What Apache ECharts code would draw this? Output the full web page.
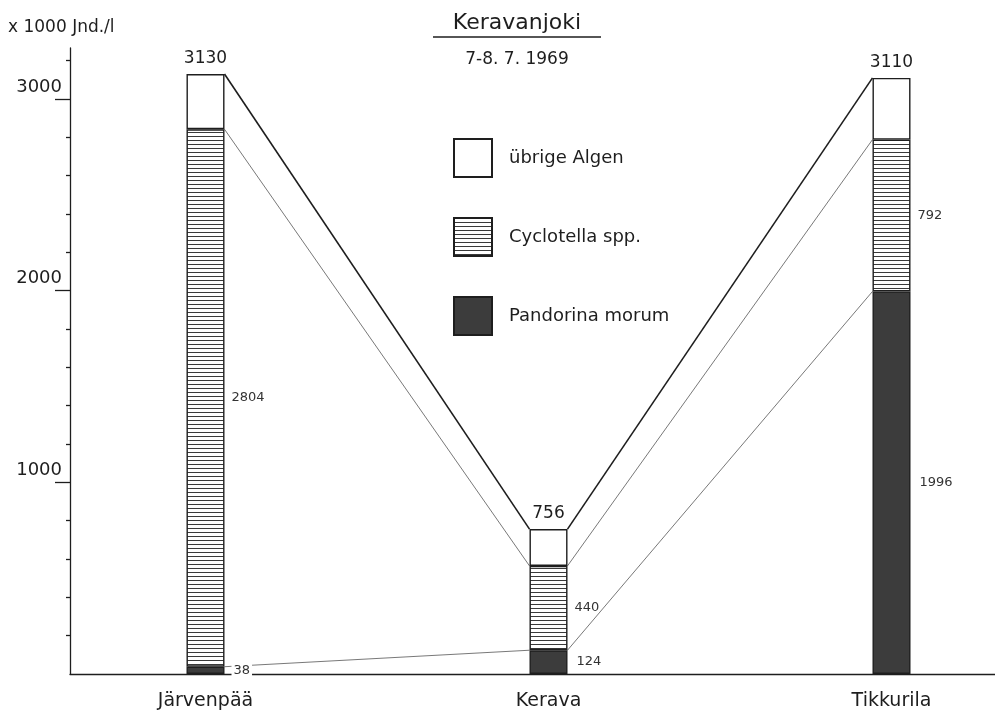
<!DOCTYPE html>
<html>
<head>
<meta charset="utf-8">
<script src="https://cdn.jsdelivr.net/npm/echarts@6/dist/echarts.min.js"></script>
<style>html,body{margin:0;padding:0;background:#fff;}#chart{width:995px;height:717px;}</style>
</head>
<body>
<div id="chart"></div>
<script>
// ---- data ----
const categories = ['Järvenpää', 'Kerava', 'Tikkurila'];
const pandorina = [38, 124, 1996];      // Pandorina morum
const cyclotella = [2804, 440, 792];    // Cyclotella spp.
const uebrige = [288, 192, 322];        // übrige Algen
const totals = [3130, 756, 3110];
const yMajorTicks = [1000, 2000, 3000];
const yMinorTicks = [200, 400, 600, 800, 1200, 1400, 1600, 1800, 2200, 2400, 2600, 2800, 3200];
const seriesNames = ['übrige Algen', 'Cyclotella spp.', 'Pandorina morum'];

// ---- styling ----
const FONT = '"DejaVu Sans", sans-serif';
const INK = '#1e1e1e';
const BAR_W = 38;
const Y_MAX = 3266;

function hatch() {
  const c = document.createElement('canvas');
  c.width = 4; c.height = 4;
  const g = c.getContext('2d');
  g.fillStyle = '#ffffff'; g.fillRect(0, 0, 4, 4);
  g.fillStyle = '#3a3a3a'; g.fillRect(0, 0, 4, 1);
  return c;
}

// connector segments between neighbouring bars at each stack boundary
const levels = categories.map((_, i) => [pandorina[i], pandorina[i] + cyclotella[i], totals[i]]);
const connectors = [];
for (let i = 0; i < categories.length - 1; i++) {
  for (let k = 0; k < 3; k++) {
    connectors.push([i, levels[i][k], i + 1, levels[i + 1][k], k === 2 ? 1 : 0]);
  }
}

const chart = echarts.init(document.getElementById('chart'), null, {renderer: 'canvas'});
const border = {borderColor: INK, borderWidth: 1.4};
const segLabel = {
  show: true, position: 'right', distance: 7,
  fontFamily: FONT, fontSize: 13, color: '#333'
};

chart.setOption({
  animation: false,
  backgroundColor: '#fff',
  grid: [
    {left: 205.5, right: 103.5, top: 48, bottom: 43, containLabel: false},   // bars
    {left: 70, right: 0, top: 48, bottom: 43, containLabel: false}           // axis frame
  ],
  xAxis: [{
    type: 'category', gridIndex: 0, data: categories, boundaryGap: false,
    axisLine: {show: false}, axisTick: {show: false}, splitLine: {show: false},
    axisLabel: {fontFamily: FONT, fontSize: 19, color: INK, margin: 18}
  }, {
    type: 'value', gridIndex: 1, min: 0, max: 1,
    axisLine: {show: true, onZero: false, lineStyle: {color: INK, width: 1.3}},
    axisTick: {show: false}, axisLabel: {show: false}, splitLine: {show: false}
  }],
  yAxis: [{
    type: 'value', gridIndex: 0, min: 0, max: Y_MAX, show: false
  }, {
    type: 'value', gridIndex: 1, min: 0, max: Y_MAX,
    axisLine: {show: true, onZero: false, lineStyle: {color: INK, width: 1.3}},
    axisTick: {show: true, customValues: yMajorTicks, length: 15, lineStyle: {color: INK, width: 1.3}},
    axisLabel: {
      customValues: yMajorTicks, formatter: v => String(v),
      fontFamily: FONT, fontSize: 18, color: INK,
      margin: 8, verticalAlign: 'bottom', lineHeight: 18, padding: [0, 0, 3, 0]
    },
    splitLine: {show: false}
  }, {
    type: 'value', gridIndex: 1, min: 0, max: Y_MAX, position: 'left',
    axisLine: {show: false, onZero: false},
    axisTick: {show: true, customValues: yMinorTicks, length: 4, lineStyle: {color: INK, width: 1.3}},
    axisLabel: {show: false},
    splitLine: {show: false}
  }],
  legend: {
    data: seriesNames,
    orient: 'vertical', left: 453, top: 138, padding: 0,
    itemWidth: 38, itemHeight: 38, itemGap: 39,
    icon: 'rect',
    textStyle: {fontFamily: FONT, fontSize: 18, color: INK, padding: [0, 0, 0, 12]},
    selectedMode: false
  },
  graphic: [
    {type: 'text', x: 517, y: 12, style: {text: 'Keravanjoki', font: '22px ' + FONT, fill: INK, align: 'center', verticalAlign: 'top'}},
    {type: 'line', shape: {x1: 433, y1: 37, x2: 601, y2: 37}, style: {stroke: INK, lineWidth: 1.3}},
    {type: 'text', x: 517, y: 51, style: {text: '7-8. 7. 1969', font: '17px ' + FONT, fill: INK, align: 'center', verticalAlign: 'top'}},
    {type: 'text', x: 8, y: 19, style: {text: 'x 1000 Jnd./l', font: '17px ' + FONT, fill: INK, align: 'left', verticalAlign: 'top'}}
  ],
  series: [
    {
      type: 'custom', name: 'connectors', z: 1, silent: true, clip: false,
      xAxisIndex: 0, yAxisIndex: 0,
      dimensions: ['x1', 'y1', 'x2', 'y2', 'thick'],
      encode: {x: [0, 2], y: [1, 3]},
      data: connectors,
      renderItem: function (params, api) {
        const p1 = api.coord([api.value(0), api.value(1)]);
        const p2 = api.coord([api.value(2), api.value(3)]);
        const thick = api.value(4) === 1;
        return {
          type: 'line',
          shape: {x1: p1[0] + BAR_W / 2, y1: p1[1], x2: p2[0] - BAR_W / 2, y2: p2[1]},
          style: {stroke: thick ? INK : '#555', lineWidth: thick ? 1.6 : 0.8}
        };
      }
    },
    {
      type: 'bar', name: 'Pandorina morum', stack: 'a', z: 3, barWidth: BAR_W, clip: false,
      xAxisIndex: 0, yAxisIndex: 0,
      data: pandorina,
      itemStyle: Object.assign({color: '#3c3c3c'}, border),
      label: Object.assign({backgroundColor: '#fff', padding: [0, 2]}, segLabel)
    },
    {
      type: 'bar', name: 'Cyclotella spp.', stack: 'a', z: 3, barWidth: BAR_W, clip: false,
      xAxisIndex: 0, yAxisIndex: 0,
      data: cyclotella,
      itemStyle: Object.assign({color: {image: hatch(), repeat: 'repeat'}}, border),
      label: segLabel
    },
    {
      type: 'bar', name: 'übrige Algen', stack: 'a', z: 3, barWidth: BAR_W, clip: false,
      xAxisIndex: 0, yAxisIndex: 0,
      data: uebrige,
      itemStyle: Object.assign({color: '#fff'}, border),
      label: {
        show: true, position: 'top', distance: 7,
        formatter: p => totals[p.dataIndex],
        fontFamily: FONT, fontSize: 17, color: INK
      }
    }
  ]
});
</script>
</body>
</html>
